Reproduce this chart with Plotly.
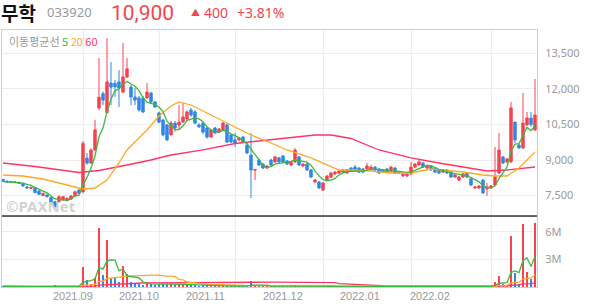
import plotly.graph_objects as go
import pandas as pd
import numpy as np

# ---------------- data ----------------
opens = [8180, 8110, 8090, 8080, 8060, 8010, 7860, 7800, 7830, 7690,
         7500, 7520, 7420, 7240, 7240, 7310, 7280, 7350, 7480, 7730,
         7650, 9080, 8870, 9420, 11200, 11800, 11000, 12250, 12240, 12300,
         11870, 12510, 12080, 11660, 11620, 11620, 11620, 11830, 11450, 10990,
         10690, 10480, 10060, 10560, 10480, 10610, 10730, 11110, 11030, 10480,
         10560, 10350, 9970, 10350, 10180, 10270, 10480, 10060, 9850, 9850,
         9970, 9630, 9210, 8570, 9000, 8830, 8660, 9000, 8920, 9090,
         9170, 8960, 8790, 8920, 9130, 8750, 8830, 8580, 8070, 8070,
         7730, 8150, 8280, 8410, 8450, 8580, 8450, 8660, 8700, 8660,
         8620, 8620, 8620, 8700, 8620, 8580, 8620, 8540, 8660, 8490,
         8330, 8330, 8410, 8700, 8790, 8870, 8660, 8750, 8660, 8580,
         8490, 8580, 8490, 8280, 8150, 8280, 8450, 8200, 7820, 7820,
         8150, 7780, 7820, 7940, 8450, 9130, 8920, 8920, 10600, 9630,
         9510, 10480, 10770, 10270]
closes = [8090, 8070, 8060, 8050, 8020, 7900, 7820, 7840, 7620, 7550,
          7590, 7450, 7170, 7020, 7450, 7450, 7380, 7480, 7660, 7590,
          9700, 8870, 9420, 10270, 11650, 11530, 12300, 12080, 12090, 12040,
          12510, 12850, 11660, 11530, 11110, 11030, 11870, 11450, 11240, 10600,
          10060, 9850, 10560, 10350, 10600, 10820, 11030, 10900, 10560, 10400,
          10180, 9970, 10270, 10140, 10310, 10560, 9760, 9760, 9720, 9930,
          9760, 9300, 8580, 8600, 8790, 8660, 8750, 8790, 9130, 8920,
          8920, 8830, 8920, 9420, 8790, 8830, 8580, 8280, 8150, 7820,
          8030, 8320, 8450, 8490, 8530, 8490, 8580, 8530, 8580, 8490,
          8490, 8750, 8700, 8580, 8450, 8490, 8490, 8700, 8450, 8450,
          8410, 8410, 8700, 8830, 8920, 8700, 8750, 8580, 8490, 8450,
          8580, 8450, 8280, 8370, 8280, 8410, 8280, 7940, 7860, 7900,
          7610, 7860, 7900, 8280, 9420, 8870, 9040, 11200, 9850, 9510,
          10560, 10770, 10500, 10900]
highs = [8200, 8130, 8100, 8100, 8080, 8030, 7900, 7870, 7850, 7720,
         7620, 7550, 7440, 7260, 7500, 7480, 7420, 7520, 7700, 7760,
         9800, 9300, 9500, 10700, 13310, 11900, 14150, 13140, 12380, 12800,
         13940, 13310, 12170, 12040, 11700, 11700, 12250, 11870, 11500, 11050,
         10730, 10520, 10650, 10650, 11320, 11410, 11100, 11200, 11110, 10560,
         10600, 10400, 10310, 10400, 10350, 10600, 10560, 10100, 10140, 9970,
         10010, 9680, 10140, 8620, 9050, 8870, 8790, 9050, 9170, 9130,
         9210, 9000, 8960, 9500, 9170, 8870, 8870, 8620, 8200, 8110,
         8070, 8360, 8490, 8530, 8580, 8620, 8620, 8700, 8790, 8700,
         8660, 8870, 8790, 8750, 8660, 8620, 8660, 8750, 8700, 8530,
         8450, 8450, 8920, 8870, 9000, 8920, 8790, 8790, 8700, 8620,
         8620, 8620, 8530, 8410, 8320, 8450, 8490, 8240, 7900, 7940,
         8200, 8030, 7940, 9550, 10140, 9170, 9090, 11450, 10600, 9680,
         11830, 11030, 11030, 12420]
lows = [8070, 8050, 8040, 8030, 8000, 7880, 7800, 7780, 7600, 7530,
        7480, 7430, 7150, 6990, 7200, 7290, 7260, 7330, 7460, 7570,
        7600, 8800, 8830, 9400, 11100, 11320, 10980, 11320, 11660, 11240,
        11830, 12460, 11320, 11320, 11050, 10980, 11580, 11400, 11200, 10550,
        10000, 9800, 10050, 10200, 10270, 10560, 10690, 10820, 10520, 10350,
        10100, 9900, 9930, 10100, 10140, 10230, 9720, 9720, 9550, 9800,
        9720, 9250, 7390, 8150, 8750, 8620, 8620, 8750, 8870, 8870,
        8870, 8790, 8750, 8880, 8750, 8700, 8540, 8240, 8030, 7780,
        7690, 8110, 8240, 8370, 8410, 8450, 8410, 8490, 8540, 8450,
        8450, 8580, 8580, 8540, 8410, 8450, 8450, 8490, 8410, 8410,
        8280, 8280, 8370, 8660, 8750, 8660, 8620, 8540, 8450, 8410,
        8450, 8410, 8240, 8240, 8110, 8240, 8240, 7900, 7780, 7780,
        7560, 7480, 7780, 7900, 8410, 8830, 8880, 8880, 9720, 9470,
        9470, 10440, 10400, 10230]
volumes_m = [0.08, 0.06, 0.07, 0.05, 0.06, 0.08, 0.07, 0.05, 0.09, 0.08,
             0.06, 0.05, 0.10, 0.12, 0.09, 0.07, 0.06, 0.07, 0.10, 0.08,
             2.2, 0.75, 0.3, 1.0, 6.4, 1.3, 5.1, 0.93, 0.93, 0.57,
             2.27, 1.37, 0.57, 0.4, 0.3, 0.2, 0.45, 0.35, 0.25, 0.3,
             0.35, 0.3, 0.3, 0.2, 0.35, 0.25, 0.2, 0.15, 0.2, 0.1,
             0.15, 0.2, 0.12, 0.1, 0.08, 0.12, 0.15, 0.1, 0.1, 0.08,
             0.08, 0.1, 0.6, 0.15, 0.1, 0.08, 0.07, 0.08, 0.1, 0.07,
             0.08, 0.06, 0.06, 0.2, 0.1, 0.06, 0.08, 0.1, 0.08, 0.1,
             0.1, 0.08, 0.07, 0.06, 0.05, 0.05, 0.06, 0.05, 0.05, 0.05,
             0.05, 0.06, 0.05, 0.05, 0.05, 0.04, 0.05, 0.06, 0.05, 0.04,
             0.05, 0.05, 0.08, 0.06, 0.07, 0.05, 0.05, 0.05, 0.05, 0.04,
             0.05, 0.05, 0.06, 0.05, 0.05, 0.05, 0.05, 0.08, 0.06, 0.05,
             0.1, 0.08, 0.1, 0.57, 1.2, 0.3, 0.2, 5.6, 1.47, 0.3,
             6.8, 1.65, 0.9, 7.0]

# moving-average lines (candle index, price)
ma20_idx = [0, 5, 10, 15, 20, 23, 26, 29, 31, 36, 39, 42, 44, 47, 54, 58, 62, 67, 71,
            77, 81, 84, 87, 92, 97, 102, 107, 115, 120, 123, 126, 129, 130, 133]
ma20_val = [8366, 8324, 8197, 7986, 7775, 7817, 8155, 8874, 9423, 10268, 10859, 11282,
            11451, 11324, 10732, 10394, 10056, 9718, 9423, 9085, 8789, 8578, 8578, 8535,
            8451, 8451, 8620, 8493, 8366, 8324, 8324, 8662, 8831, 9338]
ma60_idx = [0, 8, 19, 24, 31, 37, 42, 50, 58, 64, 72, 78, 82, 87, 94, 102, 109, 117,
            121, 126, 133]
ma60_val = [8873, 8725, 8472, 8556, 8789, 9000, 9211, 9423, 9697, 9803, 9972, 10056,
            10056, 9908, 9423, 9085, 8873, 8662, 8535, 8578, 8704]

month_start_idx = [20, 39, 58, 80, 102, 122]
month_labels = ["2021.09", "2021.10", "2021.11", "2021.12", "2022.01", "2022.02"]
price_ticks = [7500, 9000, 10500, 12000, 13500]
vol_ticks = [3e6, 6e6]
vol_tick_text = ["3M", "6M"]

# ---------------- styling ----------------
RED = "#f6434f"
BLUE = "#2f87e6"
GREEN = "#3cb93c"
ORANGE = "#ffa726"
PINK = "#ff3366"
GRID = "#ededed"
FRAME = "#cfcfcf"
LABEL = "#999999"
FONT = "Noto Sans, Noto Sans CJK KR, sans-serif"
NARROW = "Liberation Sans Narrow, Liberation Sans, sans-serif"
KFONT = "Noto Sans CJK KR, Noto Sans, sans-serif"
BIG = "Roboto, Noto Sans, sans-serif"

W, H = 594, 304
ML, MR, MT, MB = 2, 57, 30, 17
PW, PH = W - ML - MR, H - MT - MB
SPLIT_PX = 216
vdom = (H - MB - SPLIT_PX) / PH


def px_x(px):
    return (px - ML) / PW


def px_y(py):
    return (H - MB - py) / PH


n = len(closes)
idx = list(range(n))
close_s = pd.Series(closes, dtype=float)
ma5 = close_s.rolling(5, min_periods=1).mean()
vol = np.array(volumes_m) * 1e6
vol_s = pd.Series(vol)
vma5 = vol_s.rolling(5, min_periods=1).mean()
vma20 = vol_s.rolling(20, min_periods=1).mean()
vma60 = vol_s.rolling(60, min_periods=1).sum() / 60
vol_colors = [RED if c >= o else BLUE for o, c in zip(opens, closes)]

fig = go.Figure()
fig.add_trace(go.Candlestick(
    x=idx, open=opens, high=highs, low=lows, close=closes,
    increasing=dict(line=dict(color=RED, width=1), fillcolor=RED),
    decreasing=dict(line=dict(color=BLUE, width=1), fillcolor=BLUE),
    whiskerwidth=0, xaxis="x", yaxis="y", hoverinfo="skip"))
fig.add_trace(go.Scatter(x=ma60_idx, y=ma60_val, mode="lines",
                         line=dict(color=PINK, width=1.3), xaxis="x", yaxis="y"))
fig.add_trace(go.Scatter(x=ma20_idx, y=ma20_val, mode="lines",
                         line=dict(color=ORANGE, width=1.3), xaxis="x", yaxis="y"))
fig.add_trace(go.Scatter(x=idx, y=ma5, mode="lines",
                         line=dict(color=GREEN, width=1.3), xaxis="x", yaxis="y"))

fig.add_trace(go.Bar(x=idx, y=vol, marker=dict(color=vol_colors, line=dict(width=0)),
                     width=0.68, xaxis="x2", yaxis="y2"))
fig.add_trace(go.Scatter(x=idx, y=vma60, mode="lines",
                         line=dict(color=PINK, width=1.3), xaxis="x2", yaxis="y2"))
fig.add_trace(go.Scatter(x=idx, y=vma20, mode="lines",
                         line=dict(color=ORANGE, width=1.3), xaxis="x2", yaxis="y2"))
fig.add_trace(go.Scatter(x=idx, y=vma5, mode="lines",
                         line=dict(color=GREEN, width=1.3), xaxis="x2", yaxis="y2"))

xr = [-0.25, n - 0.5]
price_range = [6634, 14492]
vol_range = [0, 7.72e6]

axis_common = dict(range=xr, showgrid=True, gridcolor=GRID, gridwidth=1,
                   tickmode="array", tickvals=month_start_idx, showticklabels=False,
                   ticks="", zeroline=False, fixedrange=True)

fig.update_layout(
    width=W, height=H, margin=dict(l=ML, r=MR, t=MT, b=MB),
    paper_bgcolor="white", plot_bgcolor="white", showlegend=False,
    hovermode=False, bargap=0, boxgap=0.4, boxgroupgap=0,
    xaxis=dict(**axis_common, anchor="y", domain=[0, 1], showline=True,
               linecolor=FRAME, mirror=True, rangeslider=dict(visible=False)),
    xaxis2=dict(**axis_common, anchor="y2", domain=[0, 1], matches="x",
                showline=True, linecolor=FRAME, linewidth=1),
    yaxis=dict(domain=[vdom, 1], range=price_range, side="right",
               tickmode="array", tickvals=price_ticks,
               ticktext=[f"{v:,}" for v in price_ticks],
               showgrid=True, gridcolor=GRID, zeroline=False,
               showline=True, linecolor=FRAME, mirror=True, ticks="",
               ticklabelstandoff=5,
               tickfont=dict(family=FONT, size=11, color=LABEL), fixedrange=True),
    yaxis2=dict(domain=[0, vdom], range=vol_range, side="right",
                tickmode="array", tickvals=vol_ticks, ticktext=vol_tick_text,
                showgrid=True, gridcolor=GRID, zeroline=False,
                showline=True, linecolor=FRAME, mirror=True, ticks="",
                ticklabelstandoff=5,
                tickfont=dict(family=FONT, size=11, color=LABEL), fixedrange=True),
)

# dark separator between price and volume panes
fig.add_shape(type="line", xref="paper", yref="paper", x0=0, x1=1, y0=vdom, y1=vdom,
              line=dict(color="#3a3a3a", width=1.5))

annotations = []
# month labels: the reference draws them slightly compressed toward the left
for i, lab in zip(month_start_idx, month_labels):
    gx = 3 + 4 * i
    lx = (0.876 * gx - 3) / 4
    annotations.append(dict(x=lx, xref="x2", y=px_y(295.5), yref="paper",
                            yanchor="middle", text=lab, showarrow=False,
                            font=dict(family=NARROW, size=11, color=LABEL)))

# legend
annotations.append(dict(
    x=px_x(7), y=px_y(41), xref="paper", yref="paper", xanchor="left",
    yanchor="middle", showarrow=False,
    text=(f"<span style='color:{LABEL}'>이동평균선</span> "
          f"<span style='color:{GREEN}'>5</span> "
          f"<span style='color:{ORANGE}'>20</span> "
          f"<span style='color:{PINK}'>60</span>"),
    font=dict(family=KFONT, size=11, color=LABEL)))

# watermark
annotations.append(dict(x=px_x(4), y=px_y(206), xref="paper", yref="paper",
                        xanchor="left", yanchor="middle", showarrow=False,
                        text="<b>©PAXNet</b>",
                        font=dict(family=FONT, size=15, color="#d2d2d2")))

# header
annotations += [
    dict(x=px_x(-1), y=px_y(12), xref="paper", yref="paper", xanchor="left",
         yanchor="middle", showarrow=False, text="<b>무학</b>",
         font=dict(family=KFONT, size=19, color="#111111")),
    dict(x=px_x(45), y=px_y(12), xref="paper", yref="paper", xanchor="left",
         yanchor="middle", showarrow=False, text="033920",
         font=dict(family=FONT, size=13, color="#999999")),
    dict(x=px_x(109), y=px_y(13), xref="paper", yref="paper", xanchor="left",
         yanchor="middle", showarrow=False, text="10,900",
         font=dict(family=BIG, size=21, color=RED)),
    dict(x=px_x(189), y=px_y(12), xref="paper", yref="paper", xanchor="left",
         yanchor="middle", showarrow=False, text="▲",
         font=dict(family=FONT, size=9, color=RED)),
    dict(x=px_x(202), y=px_y(12), xref="paper", yref="paper", xanchor="left",
         yanchor="middle", showarrow=False, text="400",
         font=dict(family=FONT, size=14, color=RED)),
    dict(x=px_x(235), y=px_y(12), xref="paper", yref="paper", xanchor="left",
         yanchor="middle", showarrow=False, text="+3.81%",
         font=dict(family=FONT, size=14, color=RED)),
]
fig.update_layout(annotations=annotations)

fig.write_html("out.html")
